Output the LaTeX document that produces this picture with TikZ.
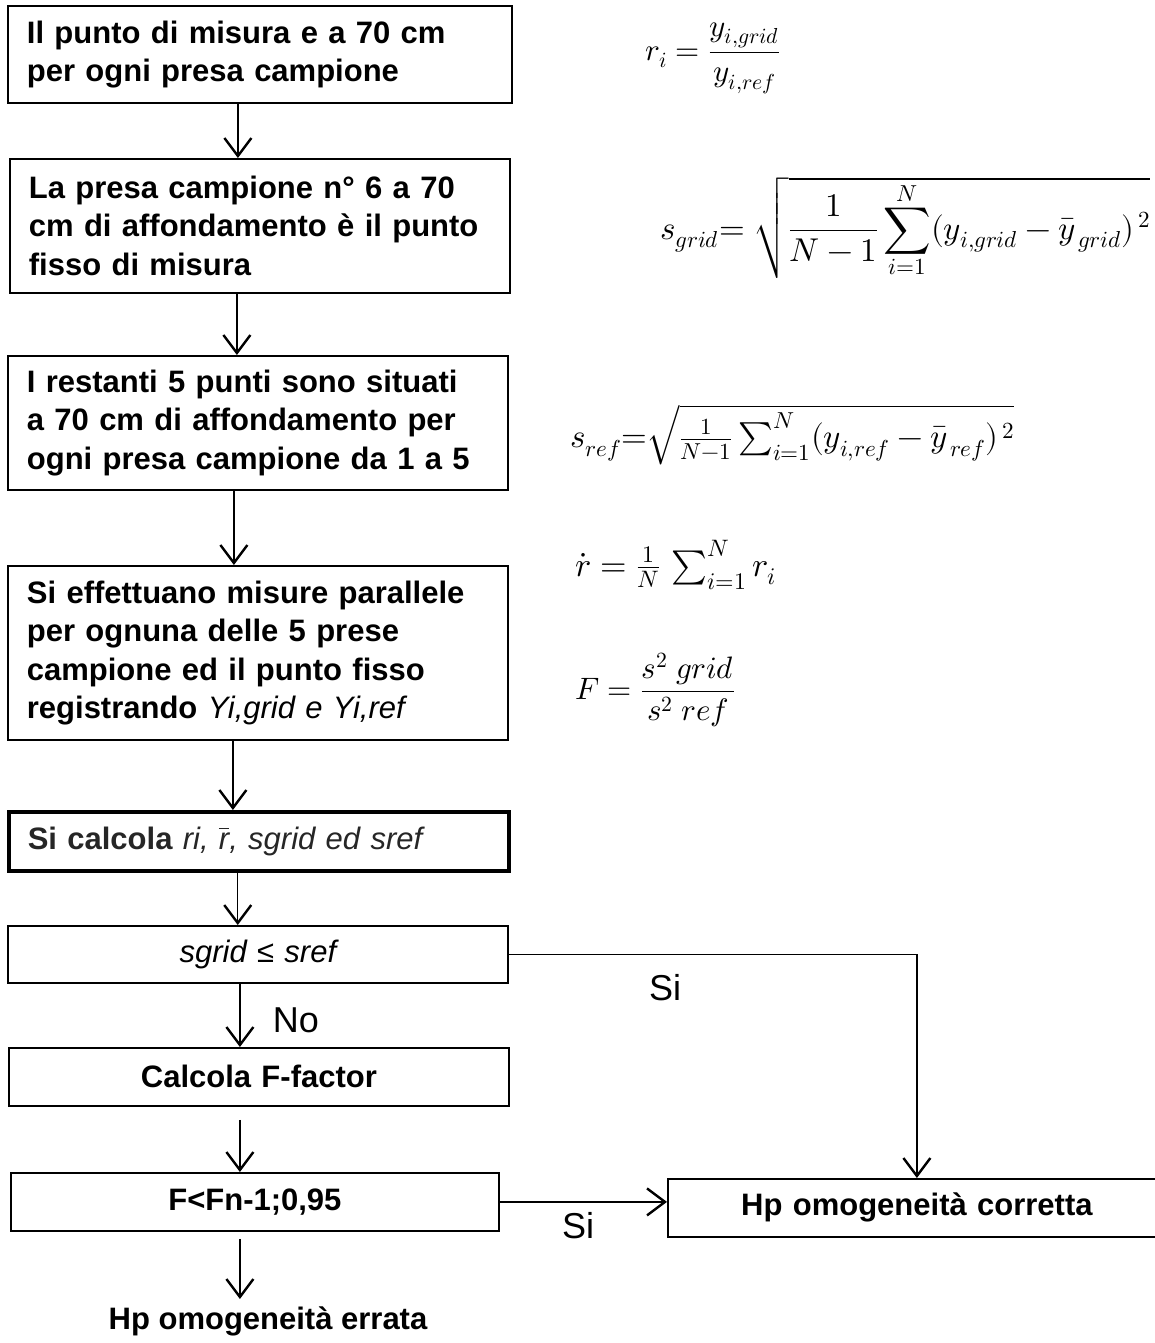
\documentclass[tikz,border=0pt]{standalone}
\usepackage{amsmath}
\usepackage{fontspec}
\usepackage{unicode-math}
\setmainfont{Liberation Sans}
\setmathfont{Latin Modern Math}
\usetikzlibrary{arrows.meta}

\begin{document}
\begin{tikzpicture}[x=1pt,y=-1pt,
  box/.style={draw,line width=1.8pt,anchor=north west,inner xsep=19pt,inner ysep=0pt,align=left,
    font=\fontsize{31}{38.5}\selectfont\bfseries},
  cbox/.style={box,align=center},
  freccia/.style={line width=1.3pt,-{Straight Barb[length=18pt,width=27pt,line width=2.4pt]}},
  formula/.style={anchor=west,inner sep=0pt,font=\fontsize{31}{36}\selectfont},
  etich/.style={inner sep=0pt,font=\fontsize{36}{40}\selectfont}]
\useasboundingbox (0,0) rectangle (1154,1343);

% colonna dei passi
\node[box,text width=466pt,minimum height=97pt] (b1) at (7,5) {Il punto di misura e a 70 cm\\per ogni presa campione};
\node[box,text width=462pt,minimum height=134pt] (b2) at (9,158) {La presa campione n° 6 a 70\\cm di affondamento è il punto\\fisso di misura};
\node[box,text width=462pt,minimum height=134pt] (b3) at (7,355) {I restanti 5 punti sono situati\\a 70 cm di affondamento per\\ogni presa campione da 1 a 5};
\node[box,text width=462pt,minimum height=174pt] (b4) at (7,565) {Si effettuano misure parallele\\per ognuna delle 5 prese\\campione ed il punto fisso\\registrando \textit{\mdseries Yi,grid e Yi,ref}};
\node[box,line width=3.5pt,text width=462pt,minimum height=59pt,text=black!85] (b5) at (7,810) {Si calcola \textit{\mdseries ri, $\overline{\mbox{\textit{r}}}$, sgrid ed sref}};
\node[cbox,text width=462pt,minimum height=57pt,font=\fontsize{31}{38.5}\selectfont\itshape] (b6) at (7,925) {sgrid ≤ sref};
\node[cbox,text width=462pt,minimum height=58pt] (b7) at (8,1047) {Calcola F-factor};
\node[cbox,text width=450pt,minimum height=58pt] (b8) at (10,1172) {F<Fn-1;0,95};
\node[cbox,text width=460pt,minimum height=58pt] (b9) at (667,1178) {Hp omogeneità corretta};
\node[font=\fontsize{31}{34}\selectfont\bfseries,anchor=north,inner sep=0pt] (err) at (268,1307) {Hp omogeneità errata};

% frecce
\draw[freccia] ([xshift=-22pt]b1.south) -- ([xshift=-22pt]b1.south |- b2.north);
\draw[freccia] ([xshift=-23pt]b2.south) -- ([xshift=-23pt]b2.south |- b3.north);
\draw[freccia] ([xshift=-24pt]b3.south) -- ([xshift=-24pt]b3.south |- b4.north);
\draw[freccia] ([xshift=-25pt]b4.south) -- ([xshift=-25pt]b4.south |- b5.north);
\draw[freccia] ([xshift=-21pt]b5.south) -- ([xshift=-21pt]b5.south |- b6.north);
\draw[freccia] ([xshift=-18pt]b6.south) -- ([xshift=-18pt]b6.south |- b7.north);
\draw[freccia] ([xshift=-19pt,yshift=-13pt]b7.south) -- ([xshift=-19pt]b7.south |- b8.north);
\draw[freccia] ([xshift=-15pt,yshift=-7pt]b8.south) -- ([xshift=-15pt,yshift=8pt]b8.south |- err.north);
\draw[freccia] (b6.east) -| (b9.north);
\draw[freccia] (b8.east) -- (b8.east -| b9.west);
\node[etich] (no) at (296,1020) {No};
\node[etich] (si1) at (665,988) {Si};
\node[etich] (si2) at (578,1226) {Si};

% formule
\node[formula,font=\fontsize{31}{36}\selectfont] (fr) at (645,58) {$r_i = \dfrac{y_{i,grid}}{y_{i,ref}}$};
\node[formula,font=\fontsize{33}{38}\selectfont] (fs) at (660,228) {$s_{grid}{=}\ \sqrt{\dfrac{1}{N-1}\displaystyle\sum_{i=1}^{N}(y_{i,grid}-\bar{y}_{\,grid})^{\,2}}$};
\node[formula,font=\fontsize{33}{38}\selectfont] (fsr) at (570,435) {$s_{ref}{=}\sqrt{\tfrac{1}{N-1}\sum\nolimits_{i=1}^{N}(y_{i,ref}-\bar{y}_{\,ref})^{\,2}}$};
\node[formula,font=\fontsize{34}{38}\selectfont] (fm) at (575,565) {$\dot{r} = \tfrac{1}{N}\,\sum\nolimits_{i=1}^{N} r_i$};
\node[formula] (ff) at (575,690) {$F = \dfrac{s^2\ grid}{s^2\ ref}$};
\end{tikzpicture}
\end{document}
